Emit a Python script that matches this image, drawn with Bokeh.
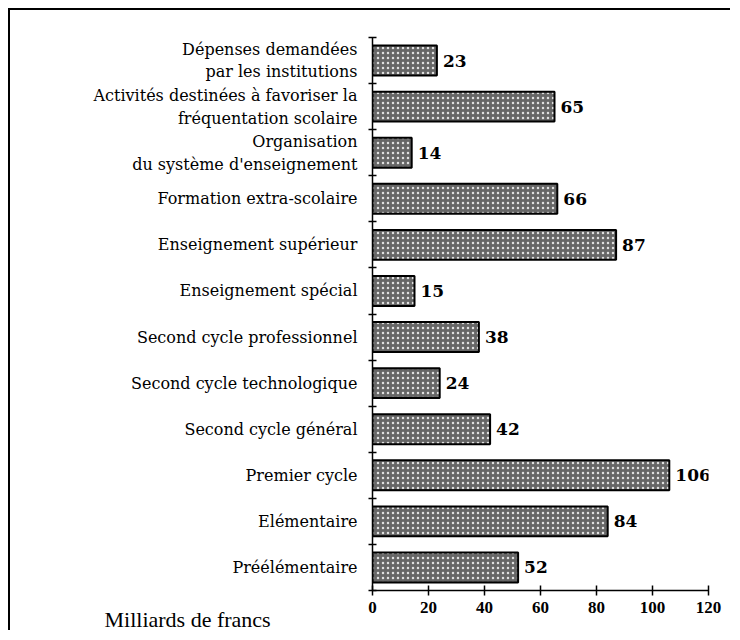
from bokeh.plotting import figure
from bokeh.models import Range1d, FixedTicker, Title, ColumnDataSource
from bokeh.core.properties import value
from bokeh.embed import file_html
from bokeh.resources import INLINE

# Data (top to bottom as in the chart)
categories = [
    "Dépenses demandées\npar les institutions",
    "Activités destinées à favoriser la\nfréquentation scolaire",
    "Organisation\ndu système d'enseignement",
    "Formation extra-scolaire",
    "Enseignement supérieur",
    "Enseignement spécial",
    "Second cycle professionnel",
    "Second cycle technologique",
    "Second cycle général",
    "Premier cycle",
    "Elémentaire",
    "Préélémentaire",
]
values = [23, 65, 14, 66, 87, 15, 38, 24, 42, 106, 84, 52]
x_ticks = [0, 20, 40, 60, 80, 100, 120]
unit_label = "Milliards de francs"

n = len(categories)
centers = [n - i - 0.5 for i in range(n)]
bounds = list(range(n + 1))

src = ColumnDataSource(dict(y=centers, v=values, t=[str(v) for v in values]))

p = figure(width=722, height=622, output_backend="svg", toolbar_location=None,
           x_range=Range1d(0, 120), y_range=Range1d(0, n),
           min_border_left=362, min_border_right=24, min_border_top=27,
           min_border_bottom=42)
p.styles = {"border-top": "2px solid black", "border-left": "2px solid black",
            "margin-top": "8px", "margin-left": "8px"}
p.outline_line_color = None
p.xgrid.visible = False
p.ygrid.visible = False
p.background_fill_color = "white"

p.hbar(y="y", right="v", left=0, height=0.65, source=src,
       fill_color="#666666", hatch_pattern="dot", hatch_color="#e0e0e0",
       hatch_scale=5, hatch_weight=1.2,
       line_color="black", line_width=2)

p.text(x="v", y="y", text="t", source=src, x_offset=6,
       text_font=value("DejaVu Serif"), text_font_style="bold",
       text_font_size="17px", text_baseline="middle", text_color="black")

# x axis
xa = p.xaxis[0]
xa.ticker = FixedTicker(ticks=x_ticks)
xa.major_tick_in = 5
xa.major_tick_out = 5
xa.minor_tick_line_color = None
xa.axis_line_width = 1.5
xa.major_tick_line_width = 1.5
xa.major_label_text_font = "Liberation Serif"
xa.major_label_text_font_style = "bold"
xa.major_label_text_font_size = "17px"
xa.major_label_text_color = "black"
xa.major_label_standoff = 6

# y axis
ya = p.yaxis[0]
ya.ticker = FixedTicker(ticks=centers, minor_ticks=bounds)
ya.major_label_overrides = {c: lab for c, lab in zip(centers, categories)}
ya.major_tick_line_color = None
ya.minor_tick_in = 4
ya.minor_tick_out = 4
ya.minor_tick_line_color = "black"
ya.minor_tick_line_width = 1.5
ya.axis_line_width = 1.5
ya.major_label_text_font = "DejaVu Serif"
ya.major_label_text_font_size = "16px"
ya.major_label_text_color = "black"
ya.major_label_standoff = 9

p.add_layout(Title(text=unit_label, align="left", offset=-268, standoff=-32,
                   text_font="Liberation Serif", text_font_style="normal",
                   text_font_size="22px", text_color="black"), "below")

open("out.html", "w").write(file_html(p, INLINE))
